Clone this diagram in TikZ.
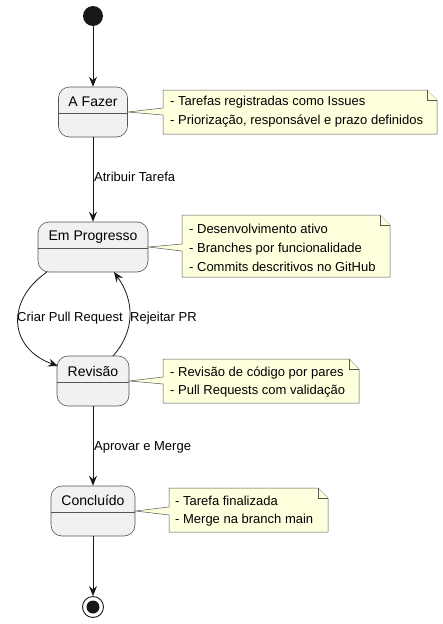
\documentclass[tikz,border=0pt]{standalone}
\usepackage{fontspec}
\setmainfont{Liberation Sans}
\usetikzlibrary{arrows.meta}
\definecolor{stfill}{HTML}{F1F1F1}
\definecolor{stline}{HTML}{181818}
\definecolor{stborder}{HTML}{555555}
\definecolor{notefill}{HTML}{FEFFDD}
\begin{document}
\begin{tikzpicture}[x=1pt,y=-1pt,
  stbox/.style={draw=stborder, fill=stfill, line width=0.6pt, rounded corners=11pt, minimum height=50pt, inner sep=0pt},
  sttxt/.style={font=\fontsize{14}{16}\selectfont, text=black, inner sep=0pt},
  divline/.style={draw=stborder, line width=0.6pt},
  notepoly/.style={draw=stborder, fill=notefill, line width=0.5pt},
  notetxt/.style={font=\fontsize{13}{18.7}\selectfont, align=left, anchor=west, inner sep=0pt},
  lbl/.style={font=\fontsize{13}{15}\selectfont, anchor=west, inner sep=0pt},
  arr/.style={draw=stline, line width=0.8pt, -{Stealth[length=10pt,width=8pt,inset=3.5pt]}}
]
\useasboundingbox (0,0) rectangle (442,624);
\fill[white] (0,0) rectangle (442,624);

% start / end
\node[circle, fill=stline, minimum size=20pt, inner sep=0pt] (start) at (93,16) {};
\node[circle, draw=stline, line width=0.9pt, minimum size=21pt, inner sep=0pt] (stop) at (93,607) {};
\node[circle, fill=stline, minimum size=13pt, inner sep=0pt] (stopin) at (93,607) {};

% states
\node[stbox, minimum width=69pt] (afazer) at (93,112) {};
\node[sttxt] (afazerT) at (93,102) {A Fazer};
\draw[divline] ([yshift=-27pt]afazer.north west) -- ([yshift=-27pt]afazer.north east);

\node[stbox, minimum width=110pt] (emprog) at (93,247) {};
\node[sttxt] (emprogT) at (93,237) {Em Progresso};
\draw[divline] ([yshift=-27pt]emprog.north west) -- ([yshift=-27pt]emprog.north east);

\node[stbox, minimum width=72pt] (revisao) at (93,381) {};
\node[sttxt] (revisaoT) at (93,371) {Revisão};
\draw[divline] ([yshift=-27pt]revisao.north west) -- ([yshift=-27pt]revisao.north east);

\node[stbox, minimum width=84pt] (concl) at (93,511) {};
\node[sttxt] (conclT) at (93,500) {Concluído};
\draw[divline] ([yshift=-27pt]concl.north west) -- ([yshift=-27pt]concl.north east);

% notes
\draw[notepoly] (163,90) -- (427,90) -- (437,100) -- (437,134) -- (163,134) -- (163,115) -- (afazer.east) -- (163,108) -- cycle;
\draw[notepoly] (427,90) -- (427,100) -- (437,100);
\node[notetxt] (n1) at (170,112) {- Tarefas registradas como Issues\\- Priorização, responsável e prazo definidos};

\draw[notepoly] (182,215) -- (380,215) -- (390,225) -- (390,277) -- (182,277) -- (182,251) -- (emprog.east) -- (182,244) -- cycle;
\draw[notepoly] (380,215) -- (380,225) -- (390,225);
\node[notetxt] (n2) at (189,248) {- Desenvolvimento ativo\\- Branches por funcionalidade\\- Commits descritivos no GitHub};

\draw[notepoly] (163,359) -- (349,359) -- (359,369) -- (359,403) -- (163,403) -- (163,384) -- (revisao.east) -- (163,377) -- cycle;
\draw[notepoly] (349,359) -- (349,369) -- (359,369);
\node[notetxt] (n3) at (170,382) {- Revisão de código por pares\\- Pull Requests com validação};

\draw[notepoly] (169,488) -- (318,488) -- (328,498) -- (328,532) -- (169,532) -- (169,515) -- (concl.east) -- (169,507) -- cycle;
\draw[notepoly] (318,488) -- (318,498) -- (328,498);
\node[notetxt] (n4) at (175,511) {- Tarefa finalizada\\- Merge na branch main};

% transitions
\draw[arr] (start) -- (afazer);
\draw[arr] (afazer) -- (emprog);
\node[lbl] (l1) at (94,177) {Atribuir Tarefa};
\coordinate (ep1) at (47,272);
\coordinate (rv1) at (58,366);
\draw[arr] (ep1) .. controls (6,300) and (8,348) .. (rv1);
\node[lbl] (l2) at (17,318) {Criar Pull Request};
\coordinate (rv2) at (113,356);
\coordinate (ep2) at (114,272);
\draw[arr] (rv2) .. controls (136,330) and (134,300) .. (ep2);
\node[lbl] (l3) at (130,318) {Rejeitar PR};
\draw[arr] (revisao) -- (concl);
\node[lbl] (l4) at (94,447) {Aprovar e Merge};
\draw[arr] (concl) -- (stop);
\end{tikzpicture}
\end{document}
